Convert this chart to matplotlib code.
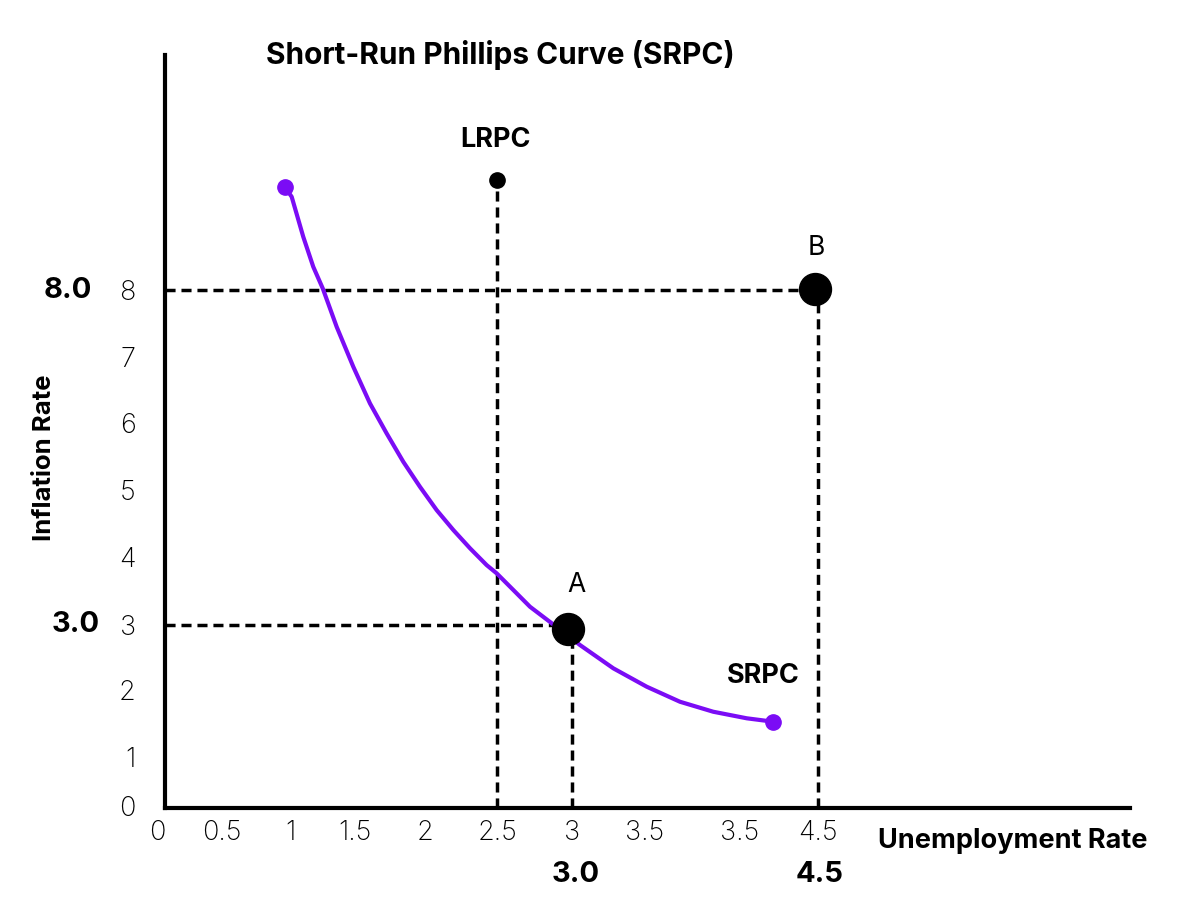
import numpy as np
import matplotlib
matplotlib.use("Agg")
import matplotlib.pyplot as plt

plt.rcParams["font.family"] = ["Inter", "DejaVu Sans"]

# tick values and their labels (the source repeats "3.5")
x_ticks = [0, 0.5, 1, 1.5, 2, 2.5, 3, 3.5, 4.0, 4.5]
x_labels = ["0", "0.5", "1", "1.5", "2", "2.5", "3", "3.5", "3.5", "4.5"]
y_ticks = [0, 1, 2, 3, 4, 5, 6, 7, 8]

# SRPC curve (unemployment, inflation)
srpc_x = [0.963, 1.013, 1.102, 1.179, 1.252, 1.359, 1.487, 1.607, 1.726, 1.845,
          1.964, 2.081, 2.197, 2.313, 2.428, 2.498, 2.609, 2.72, 2.865, 3.055,
          3.283, 3.509, 3.684, 3.859, 4.043, 4.213]
srpc_y = [9.537, 9.393, 8.796, 8.348, 8.025, 7.452, 6.853, 6.298, 5.846, 5.422,
          5.049, 4.701, 4.403, 4.130, 3.882, 3.760, 3.515, 3.269, 3.026, 2.692,
          2.334, 2.051, 1.825, 1.676, 1.578, 1.527]

lrpc_x = 2.5
lrpc_top = 9.64
point_a = (2.975, 2.934)
point_b = (4.48, 8.02)
a_ref = (3.0, 3.0)
b_ref = (4.5, 8.0)

# uneven tick spacing of the drawing: map values to screen positions
x_anchor_v = [-1, 0, 0.5, 1, 1.5, 2, 2.5, 3, 3.5, 4.0, 4.5, 9]
x_anchor_p = [27, 157, 222, 290, 355, 425, 497, 572, 645, 740, 818, 1520]
y_anchor_v = [-1, 0, 1, 2, 3, 4, 5, 6, 7, 8, 14]
y_anchor_p = [46, 94, 143, 210, 275, 343, 410, 477, 543, 610, 1012]


def xf(v):
    return np.interp(v, x_anchor_v, x_anchor_p)


def xi(p):
    return np.interp(p, x_anchor_p, x_anchor_v)


def yf(v):
    return np.interp(v, y_anchor_v, y_anchor_p)


def yi(p):
    return np.interp(p, y_anchor_p, y_anchor_v)


purple = "#7b0cf5"
W, H = 1200, 900

fig = plt.figure(figsize=(12, 9), dpi=100)
ax = fig.add_axes([157 / W, 92 / H, 973 / W, 753 / H])
ax.set_xscale("function", functions=(xf, xi))
ax.set_yscale("function", functions=(yf, yi))
x_min, x_max = 0, 6.5
y_min, y_max = -0.0417, 11.51
ax.set_xlim(x_min, x_max)
ax.set_ylim(y_min, y_max)

x0 = 0.0615
ax.spines["top"].set_visible(False)
ax.spines["right"].set_visible(False)
ax.spines["left"].set_position(("data", x0))
ax.spines["bottom"].set_bounds(x0, x_max)
for s in ["left", "bottom"]:
    ax.spines[s].set_linewidth(3)

ax.set_xticks(x_ticks)
ax.set_xticklabels(x_labels)
ax.set_yticks(y_ticks)
ax.set_yticklabels([str(t) for t in y_ticks])
ax.tick_params(axis="x", length=0, pad=9, labelsize=19.5)
ax.tick_params(axis="y", length=0, pad=21, labelsize=19.5)
for lab in ax.get_xticklabels() + ax.get_yticklabels():
    lab.set_fontweight("light")
ax.minorticks_off()

dash = (0, (2.9, 1.7))
lw = 2.5
# guide lines
ax.plot([x0, point_b[0]], [b_ref[1], b_ref[1]], color="black", lw=lw, ls=dash)
ax.plot([x0, point_a[0]], [a_ref[1], a_ref[1]], color="black", lw=lw, ls=dash)
ax.plot([a_ref[0], a_ref[0]], [y_min, point_a[1]], color="black", lw=lw, ls=dash)
ax.plot([b_ref[0], b_ref[0]], [y_min, point_b[1]], color="black", lw=lw, ls=dash)
ax.plot([lrpc_x, lrpc_x], [y_min, lrpc_top], color="black", lw=lw, ls=dash)
ax.plot([lrpc_x], [lrpc_top], "o", color="black", ms=11)

# SRPC
ax.plot(srpc_x, srpc_y, color=purple, lw=3, solid_capstyle="round", solid_joinstyle="round")
ax.plot([srpc_x[0], srpc_x[-1]], [srpc_y[0], srpc_y[-1]], "o", color=purple, ms=11)

ax.plot(*point_a, "o", color="black", ms=23)
ax.plot(*point_b, "o", color="black", ms=23)

ax.text(3.03, 3.59, "A", ha="center", va="center", fontsize=19)
ax.text(4.49, 8.63, "B", ha="center", va="center", fontsize=19)
ax.text(2.49, 10.24, "LRPC", ha="center", va="center", fontsize=19.5, fontweight="bold")
ax.text(4.15, 2.21, "SRPC", ha="center", va="center", fontsize=19.5, fontweight="bold")


def fx(p):
    return p / W


def fy(p):
    return 1 - p / H


fig.text(fx(500), fy(55), "Short-Run Phillips Curve (SRPC)", ha="center", va="center",
         fontsize=21.5, fontweight="bold")
fig.text(fx(45), fy(458), "Inflation Rate", ha="center", va="center", rotation=90,
         fontsize=18.5, fontweight="bold")
fig.text(fx(1013), fy(841), "Unemployment Rate", ha="center", va="center",
         fontsize=19.5, fontweight="bold")
fig.text(fx(92), fy(290), "8.0", ha="right", va="center", fontsize=21, fontweight="bold")
fig.text(fx(100), fy(625), "3.0", ha="right", va="center", fontsize=21, fontweight="bold")
fig.text(fx(576), fy(875), "3.0", ha="center", va="center", fontsize=21, fontweight="bold")
fig.text(fx(820), fy(875), "4.5", ha="center", va="center", fontsize=21, fontweight="bold")

fig.savefig("out.png", dpi=100)
